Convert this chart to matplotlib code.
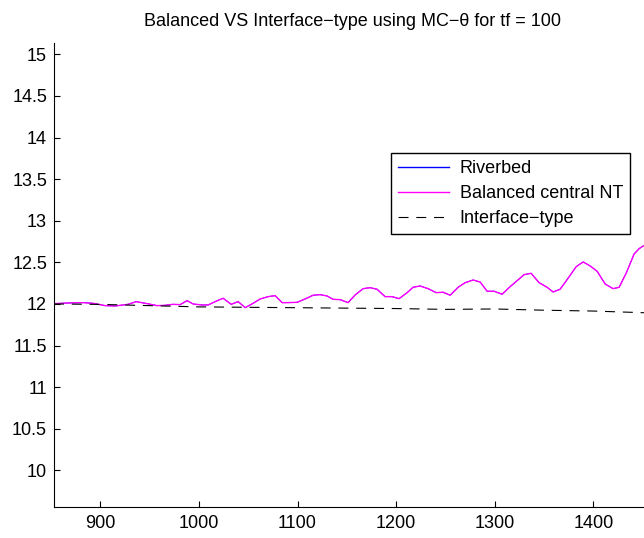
import numpy as np
import matplotlib
matplotlib.use("Agg")
import matplotlib.pyplot as plt

plt.rcParams["font.family"] = ["Liberation Sans", "DejaVu Sans"]
plt.rcParams["font.size"] = 13

# values
x_bal = [853.0, 867.3, 882.6, 892.7, 904.9, 915.0, 928.2, 936.3, 947.5, 957.6,
         965.7, 973.8, 980.9, 988.0, 994.1, 1003.2, 1009.3, 1016.4, 1024.5, 1032.7,
         1039.8, 1046.9, 1055.0, 1062.1, 1070.2, 1077.3, 1084.4, 1090.5, 1099.6, 1107.7,
         1115.8, 1122.9, 1130.0, 1136.1, 1143.2, 1151.3, 1158.4, 1166.5, 1173.6, 1180.7,
         1188.8, 1195.9, 1203.0, 1211.2, 1217.2, 1224.3, 1232.5, 1240.6, 1247.7, 1254.8,
         1262.9, 1270.0, 1278.1, 1285.2, 1292.3, 1299.4, 1307.5, 1315.6, 1322.7, 1329.8,
         1336.9, 1345.0, 1353.1, 1359.2, 1366.3, 1374.4, 1382.6, 1389.7, 1396.8, 1403.9,
         1412.0, 1420.1, 1426.2, 1433.3, 1441.4, 1446.5, 1450.5, 1456.0]
y_bal = [12.004, 12.012, 12.016, 12.008, 11.980, 11.976, 11.996, 12.028, 12.004, 11.980,
         11.984, 11.996, 11.992, 12.040, 12.000, 11.988, 11.988, 12.028, 12.069, 11.996,
         12.028, 11.956, 12.008, 12.060, 12.088, 12.100, 12.016, 12.016, 12.020, 12.060,
         12.105, 12.112, 12.096, 12.056, 12.052, 12.016, 12.108, 12.184, 12.196, 12.177,
         12.088, 12.088, 12.064, 12.136, 12.201, 12.216, 12.184, 12.136, 12.141, 12.105,
         12.201, 12.256, 12.288, 12.264, 12.153, 12.153, 12.117, 12.208, 12.280, 12.352,
         12.369, 12.256, 12.201, 12.144, 12.177, 12.309, 12.448, 12.505, 12.457, 12.393,
         12.240, 12.184, 12.201, 12.369, 12.601, 12.665, 12.697, 12.710]

# riverbed curve is hidden under the magenta one in the picture
x_riv = x_bal
y_riv = y_bal

x_int = [853, 900, 950, 1000, 1050, 1100, 1150, 1200, 1250, 1300, 1350, 1400, 1456]
y_int = [12.0, 11.995, 11.98, 11.965, 11.96, 11.955, 11.95, 11.945, 11.935, 11.94,
         11.925, 11.915, 11.893]

xticks = [900, 1000, 1100, 1200, 1300, 1400]
yticks = [10, 10.5, 11, 11.5, 12, 12.5, 13, 13.5, 14, 14.5, 15]

fig = plt.figure(figsize=(6.44, 5.38), dpi=100)
ax = fig.add_axes([54 / 644, 31 / 538, 596 / 644, 464.3 / 538])

ax.plot(x_riv, y_riv, color="#0000ff", lw=0.6, label="Riverbed")
ax.plot(x_bal, y_bal, color="#ff00ff", lw=1.0, label="Balanced central NT")
ax.plot(x_int, y_int, color="black", lw=0.8, linestyle=(0, (9, 7)),
        label="Interface\u2212type")

ax.set_xlim(853, 1457.5)
ax.set_ylim(9.56, 15.14)
ax.set_xticks(xticks)
ax.set_yticks(yticks)
ax.set_yticklabels([("%g" % v) for v in yticks])

for s in ["top", "right"]:
    ax.spines[s].set_visible(False)
for s in ["left", "bottom"]:
    ax.spines[s].set_linewidth(0.8)
ax.tick_params(direction="in", length=4, width=0.8, labelsize=13)
ax.tick_params(axis="x", pad=6)
ax.tick_params(axis="y", pad=5)

ax.set_title("Balanced VS Interface\u2212type using MC\u2212\u03b8 for tf = 100",
             fontsize=13, pad=12)

leg = ax.legend(loc="upper left", bbox_to_anchor=(391 / 644, 1 - 152.7 / 538),
                bbox_transform=fig.transFigure, borderaxespad=0,
                fancybox=False, shadow=False, framealpha=1, edgecolor="black",
                handlelength=2.8, handletextpad=0.6, labelspacing=0.45,
                borderpad=0.4, fontsize=13)
leg.get_frame().set_linewidth(1.0)
leg.legend_handles[0].set_linewidth(1.0)

fig.savefig("out.png", dpi=100)
